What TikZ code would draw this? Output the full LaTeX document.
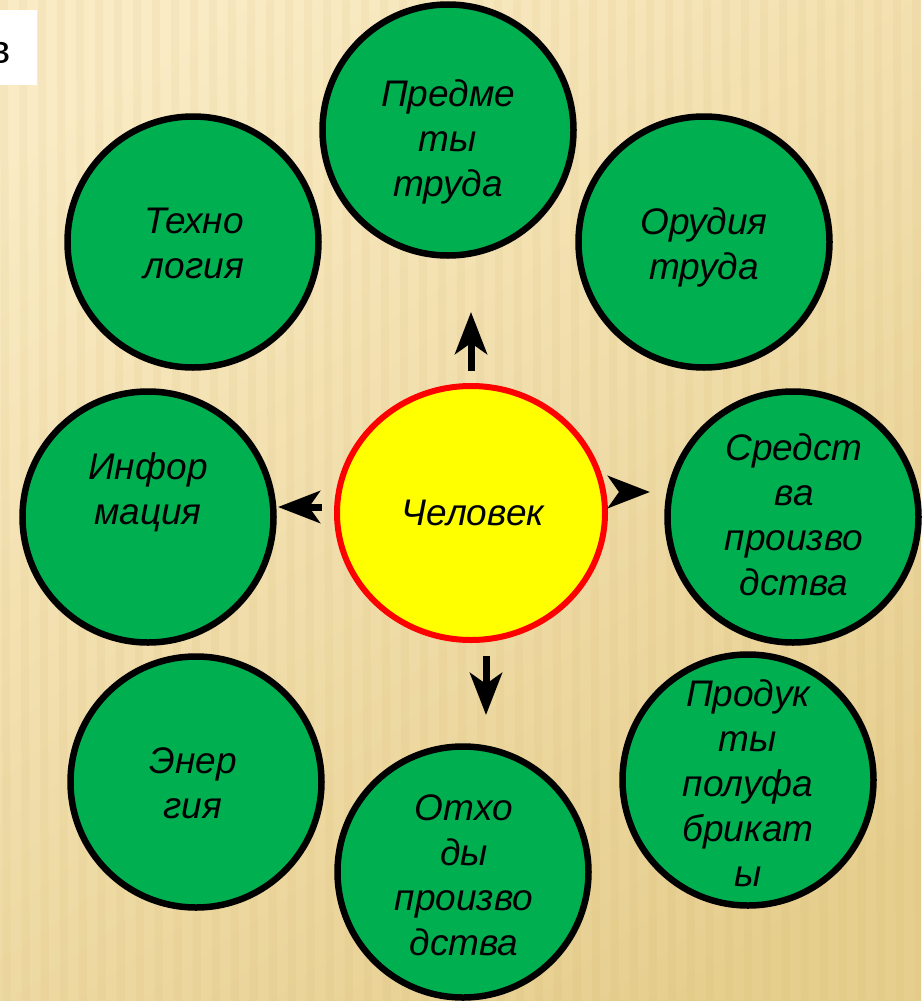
\documentclass[tikz,border=0pt]{standalone}
\usepackage{fontspec}
\setmainfont{Liberation Sans}
\usetikzlibrary{shapes.geometric,arrows.meta}

\definecolor{bglight}{HTML}{FAEBC4}
\definecolor{bgdark}{HTML}{E6CE8E}
\definecolor{stripe}{HTML}{C9A95E}
\definecolor{leaf}{HTML}{00B050}
\definecolor{sun}{HTML}{FFFF00}
\definecolor{rim}{HTML}{FF0000}

\tikzset{
  topic/.style={circle, draw=black, line width=6.5pt, fill=leaf,
    minimum size=251pt, inner sep=0pt},
  core/.style={ellipse, draw=rim, line width=6pt, fill=sun,
    minimum width=268pt, minimum height=254pt, inner sep=0pt},
  caption/.style={align=center, inner sep=0pt,
    font=\itshape\fontsize{37}{45}\selectfont},
  pointer/.style={line width=7pt,
    -{Stealth[length=42pt, width=32pt, inset=11pt]}},
}

\begin{document}
\begin{tikzpicture}[x=1pt, y=-1pt]
\useasboundingbox (0,0) rectangle (921,1001);

% backdrop: warm gradient with faint vertical ribs
\begin{scope}
  \clip (0,0) rectangle (921,1001);
  \shade[top color=bglight, bottom color=bgdark, shading angle=35]
    (-60,-60) rectangle (981,1061);
  \foreach \sx in {0,19,...,930}{
    \fill[stripe, opacity=0.08] (\sx,0) -- (\sx+8,0) -- (\sx+11,1001) -- (\sx+3,1001) -- cycle;
  }
  % corner label
  \fill[white] (0,10) rectangle (37,85);
  \node[anchor=base east, inner sep=0pt, font=\fontsize{40}{48}\selectfont]
    (corner) at (11,63) {в};
\end{scope}

% outer topics
\node[topic] (objects) at (448,130) {};
\node[topic] (tech)    at (193,242) {};
\node[topic] (tools)   at (704,242) {};
\node[topic] (info)    at (148,517) {};
\node[topic] (means)   at (793,517) {};
\node[topic] (energy)  at (196,782) {};
\node[topic] (waste)   at (463,872) {};
\node[topic] (goods)   at (748,780) {};

\node[caption] (objectsT) at (448,142) {Предме\\ты\\труда};
\node[caption] (techT)    at (194,243) {Техно\\логия};
\node[caption] (toolsT)   at (704,247) {Орудия\\труда};
\node[caption] (infoT)    at (148,492) {Инфор\\мация};
\node[caption] (meansT)   at (794,515) {Средст\\ва\\произво\\дства};
\node[caption] (energyT)  at (193,783) {Энер\\гия};
\node[caption] (wasteT)   at (464,875) {Отхо\\ды\\произво\\дства};
\node[caption] (goodsT)   at (748,783) {Продук\\ты\\полуфа\\брикат\\ы};

% centre
\node[core] (man) at (471,513) {};
\node[caption] (manT) at (473,513) {Человек};

% arrows leaving the centre
\coordinate (upFrom)    at (471,371);
\coordinate (upTo)      at (471,312);
\coordinate (downFrom)  at (486,656);
\coordinate (downTo)    at (486,715);
\coordinate (leftFrom)  at (322,507);
\coordinate (leftTo)    at (278,507);
\coordinate (rightFrom) at (620,492);
\coordinate (rightTo)   at (650,492);

\draw[pointer] (upFrom) -- (upTo);
\draw[pointer] (downFrom) -- (downTo);
\draw[pointer] (leftFrom) -- (leftTo);
\draw[pointer] (rightFrom) -- (rightTo);
\end{tikzpicture}
\end{document}
